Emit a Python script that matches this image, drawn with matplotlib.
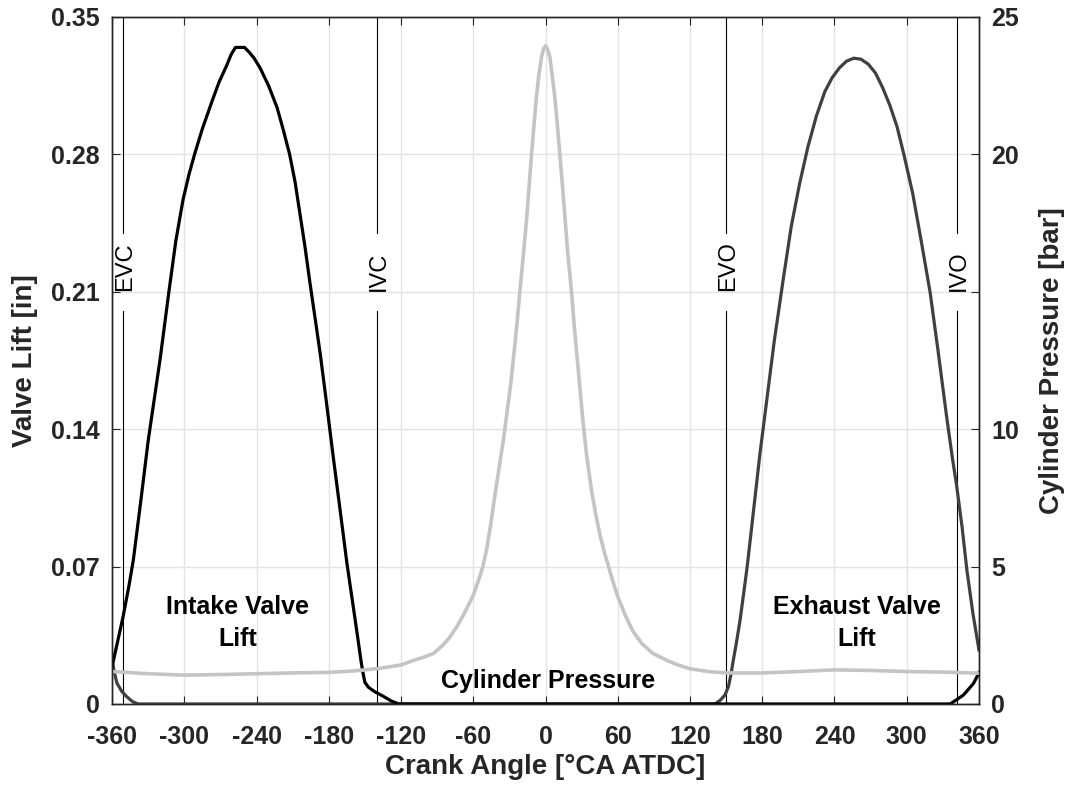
import matplotlib
matplotlib.use("Agg")
import matplotlib.pyplot as plt

plt.rcParams['font.family'] = ['Liberation Sans', 'DejaVu Sans']

# intake valve lift [in] vs crank angle
intake_ca = [-360, -356, -351, -346, -342.3, -336, -330, -325, -320, -313,
             -307, -301, -296, -291, -285, -277, -271, -265, -261, -257.5,
             -250, -246, -242, -237, -230, -223, -218, -212.5, -208, -204,
             -200, -195.5, -191, -187, -182, -176, -170, -165, -160, -156,
             -153, -151.5, -150, -147, -142, -135, -128, -122,
             336, 341, 347, 352, 355.5, 358, 360]
intake_lift = [0.019, 0.030, 0.044, 0.060, 0.0734, 0.104, 0.134, 0.155, 0.176, 0.209,
               0.236, 0.257, 0.270, 0.281, 0.293, 0.307, 0.317, 0.325, 0.331, 0.3345,
               0.3345, 0.332, 0.329, 0.324, 0.315, 0.304, 0.293, 0.280, 0.266, 0.250,
               0.234, 0.214, 0.195, 0.178, 0.154, 0.1245, 0.096, 0.072, 0.051, 0.034,
               0.021, 0.0156, 0.011, 0.0085, 0.0063, 0.004, 0.0015, 0.0,
               0.0, 0.002, 0.0045, 0.008, 0.0105, 0.0135, 0.016]

# exhaust valve lift [in]
exhaust_ca = [-360, -358, -356, -352, -347.8, -343, -338.4, 140.8, 145, 149.1,
              151.9, 154, 156, 158.5, 161.6, 164.5, 167.5, 172.5, 178, 183.6,
              190, 197.5, 204, 211, 218, 225, 232, 238, 244, 250,
              256, 262, 268, 274, 280, 286, 292, 298, 305, 312,
              319.4, 326, 333, 338, 341.5, 346, 350, 355, 360]
exhaust_lift = [0.0224, 0.016, 0.0107, 0.0065, 0.0037, 0.0012, 0.0, 0.0, 0.0018, 0.0046,
                0.0088, 0.015, 0.0224, 0.031, 0.0428, 0.056, 0.070, 0.097, 0.127, 0.154,
                0.185, 0.2166, 0.243, 0.265, 0.284, 0.2996, 0.312, 0.319, 0.324, 0.3275,
                0.329, 0.3285, 0.326, 0.3215, 0.314, 0.305, 0.294, 0.279, 0.260, 0.236,
                0.2098, 0.180, 0.147, 0.125, 0.111, 0.090, 0.068, 0.046, 0.0275]

# cylinder pressure [bar]
press_ca = [-360, -330, -300, -270, -240, -210, -180, -160, -150, -137,
            -120, -110, -100, -93, -85, -80, -73.7, -68, -64, -60,
            -56, -52, -49, -46, -42, -38, -35, -32, -29, -26.8,
            -24, -21.3, -18.5, -15.8, -13.7, -11.6, -9.5, -7.5, -5.5, -3.3,
            -1.5, 0, 1.5, 3.6, 5.5, 7.7, 9.8, 11.9, 14, 16,
            18.5, 21.6, 24, 26.5, 29, 31.2, 34, 38.1, 41.5, 45,
            49, 52.7, 56, 60.1, 66, 72.6, 80, 89.1, 100, 110,
            120, 135, 150, 180, 210, 240, 270, 300, 330, 360]
pressure = [1.18, 1.10, 1.05, 1.07, 1.10, 1.13, 1.15, 1.20, 1.24, 1.30,
            1.42, 1.58, 1.72, 1.84, 2.15, 2.40, 2.81, 3.25, 3.60, 3.95,
            4.45, 5.0, 5.6, 6.4, 7.6, 8.75, 9.6, 10.6, 11.6, 12.5,
            13.7, 15.0, 16.3, 17.6, 18.8, 20.0, 21.1, 22.1, 22.9, 23.55,
            23.85, 23.95, 23.85, 23.55, 22.9, 22.1, 21.1, 20.0, 18.9, 17.8,
            16.4, 15.0, 13.7, 12.5, 11.3, 10.25, 9.1, 7.8, 6.95, 6.2,
            5.5, 4.95, 4.45, 3.9, 3.25, 2.65, 2.2, 1.84, 1.60, 1.42,
            1.28, 1.18, 1.13, 1.13, 1.18, 1.24, 1.22, 1.18, 1.16, 1.12]

# valve events
event_names = ['EVC', 'IVC', 'EVO', 'IVO']
event_ca = [-351, -140, 150, 342]

x_ticks = list(range(-360, 361, 60))
lift_ticks = [0, 0.07, 0.14, 0.21, 0.28, 0.35]
lift_labels = ['0', '0.07', '0.14', '0.21', '0.28', '0.35']
press_ticks = [0, 5, 10, 15, 20, 25]
press_labels = ['0', '5', '10', '', '20', '25']

ink = '#262626'

fig = plt.figure(figsize=(10.67, 7.90), dpi=100)
ax = fig.add_axes([0.105, 0.1089, 0.8125, 0.8696])
ax2 = ax.twinx()

ax.plot(intake_ca, intake_lift, color='#000000', lw=2.3, zorder=3,
        solid_joinstyle='round')
ax.plot(exhaust_ca, exhaust_lift, color='#404040', lw=2.3, zorder=2,
        solid_joinstyle='round')
ax2.plot(press_ca, pressure, color='#c4c4c4', lw=2.6, solid_joinstyle='round')

# event lines with a gap for the label
for name, ca in zip(event_names, event_ca):
    ax.axvline(ca, ymin=0, ymax=0.572, color='k', lw=0.8, zorder=1)
    ax.axvline(ca, ymin=0.6856, ymax=1, color='k', lw=0.8, zorder=1)
    ax.text(ca + 1.5, 0.601, name, transform=ax.get_xaxis_transform(),
            rotation=90, ha='center', va='bottom', fontsize=17, color='k')

ax.text(-256, 0.0413, 'Intake Valve\nLift', ha='center', va='center',
        fontsize=18, fontweight='bold', linespacing=1.4)
ax.text(258.7, 0.0413, 'Exhaust Valve\nLift', ha='center', va='center',
        fontsize=18, fontweight='bold', linespacing=1.4)
ax.text(2, 0.0081, 'Cylinder Pressure', ha='center', va='baseline',
        fontsize=18, fontweight='bold')

ax.set_xlim(-360, 360)
ax.set_ylim(0, 0.35)
ax2.set_ylim(0, 25)
ax.set_xticks(x_ticks)
ax.set_xticklabels([str(t) for t in x_ticks])
ax.set_yticks(lift_ticks)
ax.set_yticklabels(lift_labels)
ax2.set_yticks(press_ticks)
ax2.set_yticklabels(press_labels)

ax.grid(True, color='#e3e3e3', lw=1.0)
ax.set_axisbelow(True)

ax.tick_params(axis='both', direction='in', length=6, width=0.8, colors=ink,
               labelsize=18, top=True, right=False)
ax.tick_params(axis='x', pad=15)
ax.tick_params(axis='y', pad=9)
ax2.tick_params(axis='y', direction='in', length=6, width=0.8, colors=ink,
                labelsize=18, pad=9)
for lab in ax.get_xticklabels() + ax.get_yticklabels() + ax2.get_yticklabels():
    lab.set_fontweight('bold')

for a in (ax, ax2):
    for s in a.spines.values():
        s.set_color(ink)
        s.set_linewidth(1.0)

ax.set_xlabel('Crank Angle [°CA ATDC]', fontsize=20, fontweight='bold', color=ink)
ax.set_ylabel('Valve Lift [in]', fontsize=20, fontweight='bold', color=ink)
ax2.set_ylabel('Cylinder Pressure [bar]', fontsize=20, fontweight='bold', color=ink)
ax.xaxis.label.set_va('center')
ax.yaxis.label.set_va('center')
ax2.yaxis.label.set_va('center')
ax.xaxis.set_label_coords(0.5, -0.0917)
ax.yaxis.set_label_coords(-0.1003, 0.5)
ax2.yaxis.set_label_coords(1.0842, 0.5)

fig.savefig('out.png', dpi=100)
